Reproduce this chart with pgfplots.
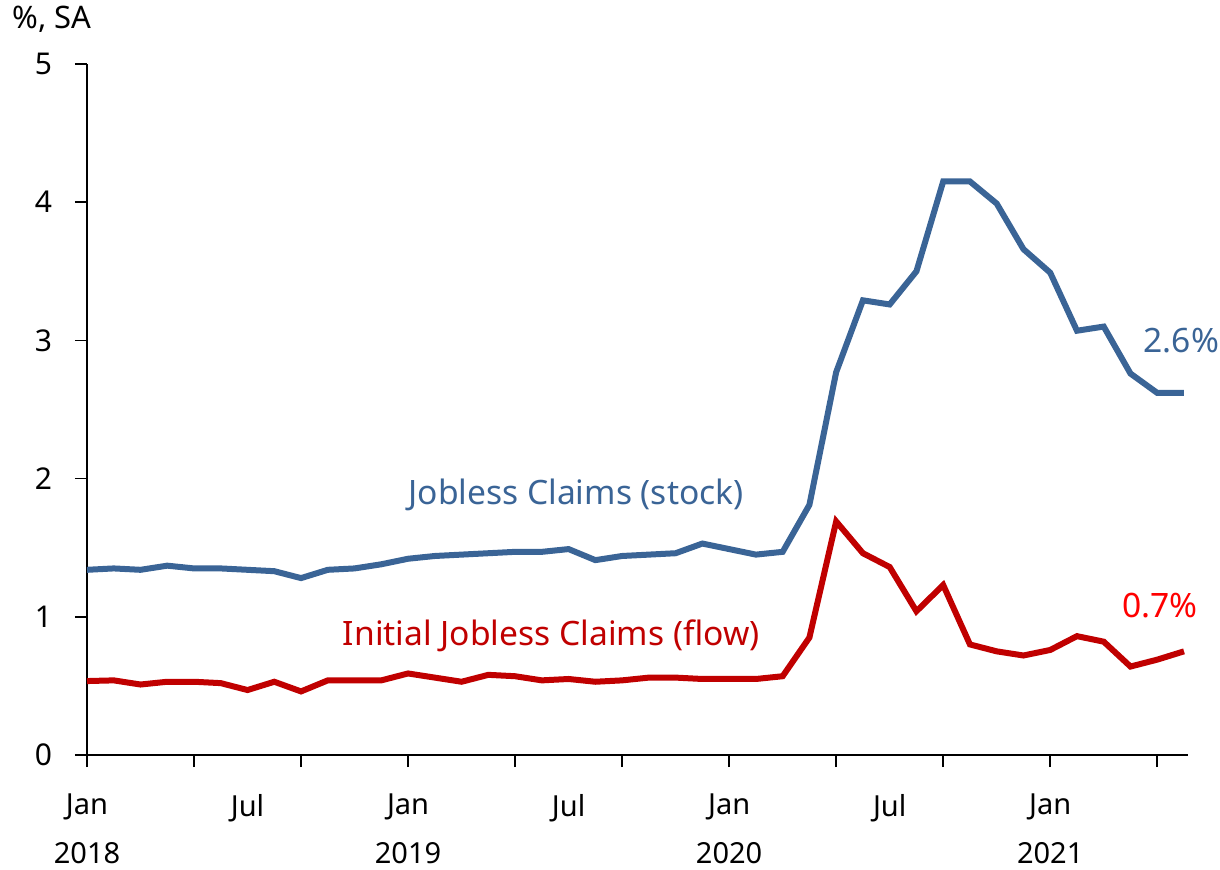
\documentclass[border=0pt]{standalone}
\usepackage{fontspec}
\setmainfont{Noto Sans}
\usepackage{pgfplots}
\pgfplotsset{compat=1.18}
\definecolor{cblue}{HTML}{3A6496}
\definecolor{cred}{HTML}{C00000}
\definecolor{lred}{HTML}{FF0000}
\begin{document}
\begin{tikzpicture}
\path[use as bounding box] (-43.5bp,-57.5bp) rectangle (566.5bp,377.5bp);
\begin{axis}[
  scale only axis,
  width=550.5bp, height=345.5bp,
  xmin=0, xmax=41.15,
  ymin=0, ymax=5,
  axis lines=left,
  axis line style={-, line width=0.8bp},
  tick style={black, line width=0.8bp},
  tick align=outside,
  major tick length=6bp,
  xtick={0,4,...,40},
  xticklabels={},
  extra x ticks={0,6,12,18,24,30,36},
  extra x tick labels={Jan\\2018,Jul,Jan\\2019,Jul,Jan\\2020,Jul,Jan\\2021},
  extra x tick style={major tick length=0pt, tick label style={align=center, anchor=north, yshift=-16bp, font=\fontsize{14.5bp}{24.5bp}\selectfont}},
  ytick={0,1,2,3,4,5},
  yticklabel style={font=\fontsize{15bp}{17bp}\selectfont, xshift=-8bp},
  /pgf/number format/assume math mode=true,
  clip=false,
]
\addplot[cblue, line width=3bp] coordinates {
(0,1.34)(1,1.35)(2,1.34)(3,1.37)(4,1.35)(5,1.35)(6,1.34)(7,1.33)(8,1.28)(9,1.34)
(10,1.35)(11,1.38)(12,1.42)(13,1.44)(14,1.45)(15,1.46)(16,1.47)(17,1.47)(18,1.49)(19,1.41)
(20,1.44)(21,1.45)(22,1.46)(23,1.53)(24,1.49)(25,1.45)(26,1.47)(27,1.81)(28,2.77)(29,3.29)
(30,3.26)(31,3.50)(32,4.15)(33,4.15)(34,3.99)(35,3.66)(36,3.49)(37,3.07)(38,3.10)(39,2.76)
(40,2.62)(41,2.62)};
\addplot[cred, line width=3bp] coordinates {
(0,0.535)(1,0.54)(2,0.51)(3,0.53)(4,0.53)(5,0.52)(6,0.47)(7,0.53)(8,0.46)(9,0.54)
(10,0.54)(11,0.54)(12,0.59)(13,0.56)(14,0.53)(15,0.58)(16,0.57)(17,0.54)(18,0.55)(19,0.53)
(20,0.54)(21,0.56)(22,0.56)(23,0.55)(24,0.55)(25,0.55)(26,0.57)(27,0.85)(28,1.69)(29,1.46)
(30,1.36)(31,1.04)(32,1.23)(33,0.80)(34,0.75)(35,0.72)(36,0.76)(37,0.86)(38,0.82)(39,0.64)
(40,0.69)(41,0.75)};
\node[cblue, font=\fontsize{16.8bp}{20bp}\selectfont] at (axis cs:18.28,1.88) {Jobless Claims (stock)};
\node[cred, font=\fontsize{16.8bp}{20bp}\selectfont] at (axis cs:17.35,0.86) {Initial Jobless Claims (flow)};
\node[cblue, font=\fontsize{16.8bp}{20bp}\selectfont] at (axis cs:40.9,3.0) {2.6\%};
\node[lred, font=\fontsize{16.8bp}{20bp}\selectfont] at (axis cs:40.1,1.08) {0.7\%};
\node[anchor=west, inner sep=0pt, font=\fontsize{15.5bp}{17bp}\selectfont] at (axis cs:-2.8,5.32) {\%, SA};
\end{axis}
\end{tikzpicture}
\end{document}
